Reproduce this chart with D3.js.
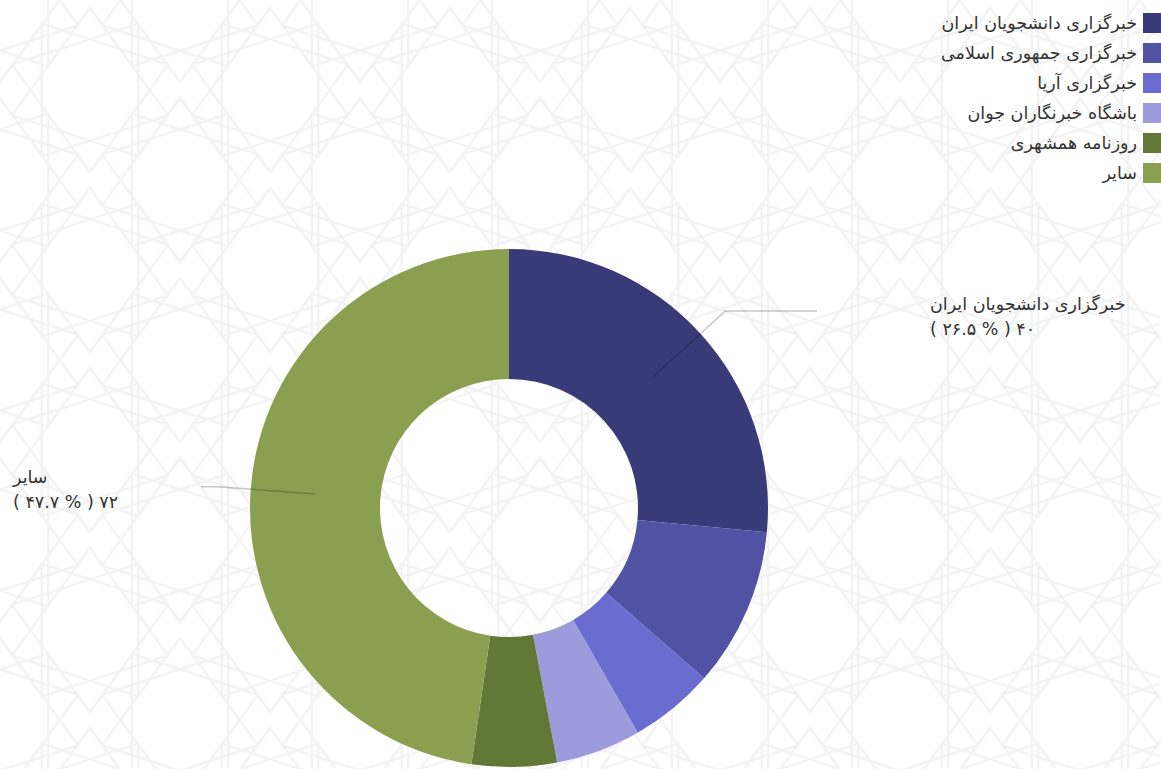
<!DOCTYPE html>
<html>
<head>
<meta charset="utf-8">
<script src="https://cdn.jsdelivr.net/npm/d3@7"></script>
<style>
  html, body { margin: 0; padding: 0; background: #fff; overflow: hidden; }
  text { font-family: "DejaVu Sans", sans-serif; fill: #333; }
  .num { direction: ltr; unicode-bidi: bidi-override; }
</style>
</head>
<body>
<script>
var categories = ["خبرگزاری دانشجویان ایران", "خبرگزاری جمهوری اسلامی", "خبرگزاری آریا",
                  "باشگاه خبرنگاران جوان", "روزنامه همشهری", "سایر"];
var values = [40, 15, 8, 8, 8, 72];
var colors = ["#393a78", "#5152a4", "#6b6cd0", "#9c9cdc", "#617837", "#8b9f51"];
var labeledSlices = [0, 5];

var w = 1161, h = 769;
var cx = 509, cy = 508;
var outerR = 259, innerR = 129;

var svg = d3.select('body').append('svg').attr('width', w).attr('height', h);

// faint geometric background
var defs = svg.append('defs');
var pat = defs.append('pattern').attr('id', 'bg').attr('patternUnits', 'userSpaceOnUse')
    .attr('width', 180).attr('height', 180);
function star(px, py, r, n, k) {
  var pts = [];
  for (var i = 0; i < n; i++) {
    var a = (i * k % n) / n * Math.PI * 2;
    pts.push([px + r * Math.sin(a), py - r * Math.cos(a)]);
  }
  return "M" + pts.join("L") + "Z";
}
[[90, 90], [0, 0], [180, 0], [0, 180], [180, 180]].forEach(function(c) {
  pat.append('path').attr('d', star(c[0], c[1], 82, 10, 3))
    .attr('fill', 'none').attr('stroke', '#f3f3f3').attr('stroke-width', 2.5);
});
svg.append('rect').attr('width', w).attr('height', h).attr('fill', 'url(#bg)');

var total = d3.sum(values);
var pie = d3.pie().sort(null);
var arcs = pie(values);
var arc = d3.arc().innerRadius(innerR).outerRadius(outerR);

var g = svg.append('g').attr('transform', 'translate(' + cx + ',' + cy + ')');

g.selectAll('path.slice')
  .data(arcs)
  .enter().append('path')
    .attr('class', 'slice')
    .attr('d', arc)
    .attr('fill', function(d, i) { return colors[i]; });

function fa(s) {
  return String(s).replace(/[0-9]/g, function(c) { return "۰۱۲۳۴۵۶۷۸۹"[+c]; });
}

// leader lines + labels
var midArc = d3.arc().innerRadius((innerR + outerR) / 2).outerRadius((innerR + outerR) / 2);
var elbowArc = d3.arc().innerRadius(outerR * 1.13).outerRadius(outerR * 1.13);

labeledSlices.forEach(function(i) {
  var d = arcs[i];
  var p0 = midArc.centroid(d);
  var p1 = elbowArc.centroid(d);
  var right = p0[0] > 0;
  var p2 = [right ? 308 : -308, p1[1]];
  g.append('polyline')
    .attr('points', [p0, p1, p2].join(' '))
    .attr('fill', 'none')
    .attr('stroke', '#000')
    .attr('stroke-opacity', 0.22)
    .attr('stroke-width', 1.5);

  var pct = (values[i] / total * 100).toFixed(1);
  var tx = right ? cx + 421 : 13;
  var ty = cy + p2[1] + (right ? 11 : 8);
  svg.append('text').attr('x', tx).attr('y', ty - 12)
    .attr('direction', 'ltr').style('font-size', '17.5px')
    .text(categories[i]);
  svg.append('text').attr('class', 'num').attr('x', tx).attr('y', ty + 13)
    .style('font-size', '17.5px')
    .text("( " + fa(pct) + " % ) " + fa(values[i]));
});

// legend
var legend = svg.append('g');
var rows = legend.selectAll('g')
  .data(categories)
  .enter().append('g')
    .attr('transform', function(d, i) { return 'translate(0,' + (13 + i * 30) + ')'; });
rows.append('rect')
  .attr('x', 1143).attr('y', 0).attr('width', 20).attr('height', 20)
  .attr('fill', function(d, i) { return colors[i]; });
rows.append('text')
  .attr('x', 1137).attr('y', 16)
  .attr('text-anchor', 'end')
  .style('font-size', '17.5px')
  .text(function(d) { return d; });
</script>
</body>
</html>
